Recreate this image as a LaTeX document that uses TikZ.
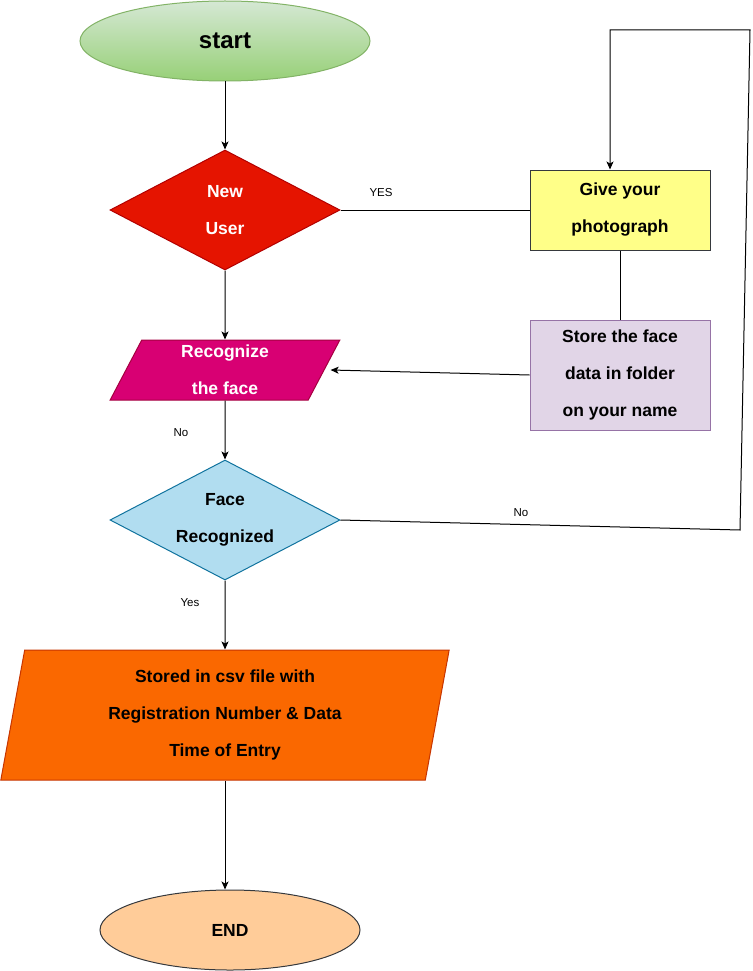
\documentclass[tikz,border=0pt]{standalone}
\usepackage{fontspec}
\setmainfont{Liberation Sans}
\usetikzlibrary{shapes.geometric,arrows.meta}
\definecolor{startlight}{HTML}{D5E8D4}
\definecolor{startdark}{HTML}{97D077}
\definecolor{startline}{HTML}{82B366}
\definecolor{userfill}{HTML}{E51400}
\definecolor{userline}{HTML}{B20000}
\definecolor{recogfill}{HTML}{D80073}
\definecolor{recogline}{HTML}{A50040}
\definecolor{facefill}{HTML}{B1DDF0}
\definecolor{faceline}{HTML}{10739E}
\definecolor{photofill}{HTML}{FFFF88}
\definecolor{darkline}{HTML}{36393D}
\definecolor{storefill}{HTML}{E1D5E7}
\definecolor{storeline}{HTML}{9673A6}
\definecolor{csvfill}{HTML}{FA6800}
\definecolor{csvline}{HTML}{C73500}
\definecolor{endfill}{HTML}{FFCC99}

\begin{document}
\begin{tikzpicture}[x=1pt,y=-1pt,line width=1pt,
    >={Stealth[length=8pt,width=7pt,inset=2pt]},
    txt/.style={font=\bfseries\fontsize{17.5}{37}\selectfont,align=center,inner sep=0pt},
    lbl/.style={font=\fontsize{11.5}{14}\selectfont,inner sep=0pt},
    decide/.style={diamond,draw,txt,minimum width=230pt,minimum height=120pt,shape aspect=1.9},
    io/.style={trapezium,draw,txt,trapezium stretches=true},
    box/.style={rectangle,draw,txt,minimum width=180pt}]
\useasboundingbox (0,0) rectangle (752,971);

\node [ellipse,draw=startline,top color=startlight,bottom color=startdark,
       minimum width=290pt,minimum height=80pt,inner sep=0pt,
       font=\bfseries\fontsize{24}{28}\selectfont] (start) at (225,41) {start};
\node [decide,draw=userline,fill=userfill,text=white] (newuser) at (225,210) {New\\User};
\node [io,draw=recogline,fill=recogfill,text=white,minimum width=230pt,minimum height=60pt,
       trapezium left angle=71.57,trapezium right angle=108.43] (recog) at (225,370) {Recognize\\the face};
\node [decide,draw=faceline,fill=facefill] (face) at (225,520) {Face\\Recognized};
\node [io,draw=csvline,fill=csvfill,minimum width=450pt,minimum height=130pt,
       trapezium left angle=81.25,trapezium right angle=98.75] (csv) at (225,715)
      {Stored in csv file with\\Registration Number \& Data\\Time of Entry};
\node [ellipse,draw=darkline,fill=endfill,minimum width=260pt,minimum height=80pt,
       inner sep=0pt,txt] (end) at (230,930) {END};
\node [box,draw=darkline,fill=photofill,minimum height=80pt] (photo) at (620,210) {Give your\\photograph};
\node [box,draw=storeline,fill=storefill,minimum height=110pt] (store) at (620,375)
      {Store the face\\data in folder\\on your name};

\coordinate (loop1) at (740,530);
\coordinate (loop2) at (750,30);
\coordinate (loop3) at (610,30);

\draw[->] (start.south) -- (newuser.north);
\draw[->] (newuser.south) -- (recog.north);
\draw[->] (recog.south) -- (face.north);
\draw[->] (face.south) -- (csv.north);
\draw[->] (csv.south) -- (csv.south |- end.north);
\draw     (newuser.east) -- (photo.west);
\draw     (photo.south) -- (store.north);
\draw[->] (store.west) -- ([xshift=6pt]recog.east);
\draw[->] (face.east) -- (loop1) -- (loop2) -- (loop3) -- (loop3 |- photo.north);

\path
    (381,193) node [lbl] (yeslbl)  {YES}
    (181,433) node [lbl] (nolbl)   {No}
    (521,513) node [lbl] (noloop)  {No}
    (190,603) node [lbl] (yesface) {Yes};
\end{tikzpicture}
\end{document}
